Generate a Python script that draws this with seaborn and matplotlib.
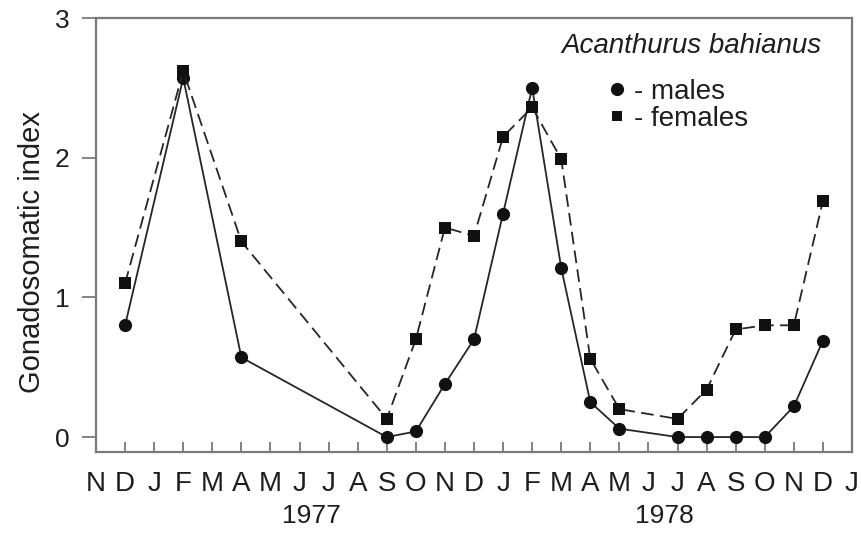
import matplotlib
matplotlib.use("Agg")
import matplotlib.pyplot as plt
import seaborn as sns
import pandas as pd
from matplotlib.lines import Line2D

# ---- data ----
month_labels = ['N', 'D', 'J', 'F', 'M', 'A', 'M', 'J', 'J', 'A', 'S', 'O', 'N',
                'D', 'J', 'F', 'M', 'A', 'M', 'J', 'J', 'A', 'S', 'O', 'N', 'D', 'J']
sample_months = [1, 3, 5, 10, 11, 12, 13, 14, 15, 16, 17, 18, 20, 21, 22, 23, 24, 25]
males_gsi = [0.80, 2.57, 0.57, 0.0, 0.04, 0.38, 0.70, 1.60, 2.50, 1.21, 0.25, 0.06,
             0.0, 0.0, 0.0, 0.0, 0.22, 0.69]
females_gsi = [1.10, 2.62, 1.40, 0.13, 0.70, 1.50, 1.44, 2.15, 2.36, 1.99, 0.56, 0.20,
               0.13, 0.34, 0.77, 0.80, 0.80, 1.69]
year_labels = ['1977', '1978']
species = 'Acanthurus bahianus'

df = pd.DataFrame({
    'month': sample_months * 2,
    'gsi': males_gsi + females_gsi,
    'sex': ['males'] * len(males_gsi) + ['females'] * len(females_gsi),
})

sns.set_theme(style='ticks')
plt.rcParams['font.family'] = ['Liberation Sans', 'DejaVu Sans']
ink = '#1e1e1e'
line_c = '#262626'
spine_c = '#7a7a7a'

fig = plt.figure(figsize=(8.62, 5.35), dpi=100)
ax = fig.add_axes([96 / 862, 1 - 452 / 535, 756 / 862, 434 / 535])

sns.lineplot(data=df, x='month', y='gsi', style='sex',
             markers={'males': 'o', 'females': 's'},
             dashes={'males': '', 'females': (7, 3.5)},
             color=line_c, lw=1.3, markersize=9.5, markeredgewidth=0,
             legend=False, ax=ax)
for ln in ax.lines:
    if ln.get_marker() == 's':
        ln.set_markersize(8.5)
    ln.set_markerfacecolor('#111111')

ax.set_xlim(0, len(month_labels) - 1)
ax.set_ylim(-0.107, 3.0)
ax.set_xticks(range(len(month_labels)))
ax.set_xticklabels(month_labels)
ax.set_yticks([0, 1, 2, 3])
ax.set_xlabel('')
ax.set_ylabel('Gonadosomatic index', fontsize=21, color=ink)
ax.yaxis.set_label_coords(-0.066, 0.461)

for s in ax.spines.values():
    s.set_visible(True)
    s.set_color(spine_c)
    s.set_linewidth(1.6)

ax.tick_params(axis='x', direction='in', length=7, width=1.3, color=spine_c,
               labelsize=20, labelcolor=ink, pad=14)
ax.tick_params(axis='y', direction='out', length=10, width=1.3, color=spine_c,
               labelsize=19, labelcolor=ink, pad=9)

# year labels below month ticks
for xpos, yl in zip([7.4, 19.55], year_labels):
    ax.text(xpos, -0.148, yl, transform=ax.get_xaxis_transform(),
            ha='center', va='center', fontsize=19, color=ink)

# species title + legend
ax.text(0.788, 0.935, species, transform=ax.transAxes, ha='center', va='center',
        fontsize=20, style='italic', color=ink)
handles = [Line2D([], [], marker='o', ls='none', color='#111111', markersize=9.5, markeredgewidth=0),
           Line2D([], [], marker='s', ls='none', color='#111111', markersize=7.5, markeredgewidth=0)]
ax.legend(handles, ['- males', '- females'], loc='upper left',
          bbox_to_anchor=(0.678, 0.86), frameon=False, fontsize=20,
          handlelength=0.6, handletextpad=0.3, labelspacing=0.05,
          borderpad=0, borderaxespad=0, labelcolor=ink)

fig.savefig('out.png', dpi=100, facecolor='white')
